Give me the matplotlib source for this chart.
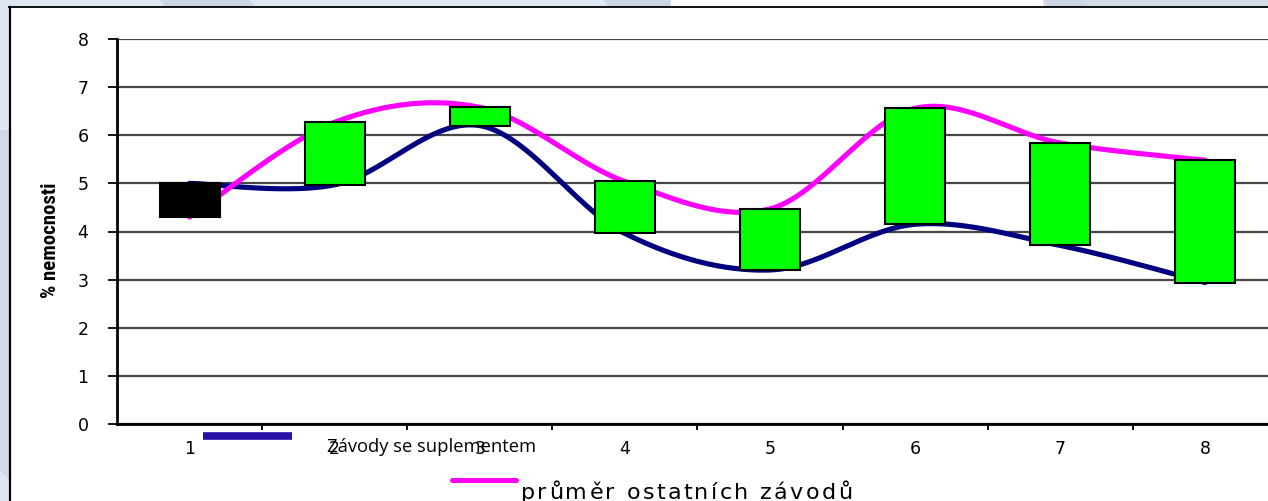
import numpy as np
import matplotlib
matplotlib.use('Agg')
import matplotlib.pyplot as plt
from matplotlib import font_manager as fm
from matplotlib.patches import Polygon, Rectangle
from matplotlib.lines import Line2D
from matplotlib.ft2font import FT2Font

# ---------------- data ----------------
categories = ['1', '2', '3', '4', '5', '6', '7', '8']
suplement = [5.0, 4.97, 6.2, 3.96, 3.2, 4.15, 3.71, 2.94]      # Závody se suplementem
ostatni = [4.3, 6.27, 6.58, 5.04, 4.47, 6.56, 5.84, 5.48]       # průměr ostatních závodů
series_names = ['Závody se suplementem', 'průměr ostatních závodů']
y_ticks = [0, 1, 2, 3, 4, 5, 6, 7, 8]
y_label = '% nemocnosti'

W, H = 1268, 501
fig = plt.figure(figsize=(W / 100, H / 100), dpi=100)
fig.patch.set_facecolor('#dee7f2')


def fx(px):
    return px / W


def fy(py):
    return 1 - py / H


def poly(pts, color, z=0):
    p = Polygon([(fx(a), fy(b)) for a, b in pts], closed=True, transform=fig.transFigure,
                facecolor=color, edgecolor='none', zorder=z)
    fig.add_artist(p)


# slide background stripes
poly([(160, 0), (250, 0), (256, 8), (166, 8)], '#ccd5e3')
poly([(604, 0), (671, 0), (675, 8), (608, 8)], '#ccd5e3')
poly([(671, 0), (1043, 0), (1043, 8), (671, 8)], '#ffffff')
poly([(1043, 0), (1084, 0), (1088, 8), (1047, 8)], '#ccd5e3')
poly([(1084, 0), (1268, 0), (1268, 8), (1088, 8)], '#d3dbe8')
poly([(0, 130), (9, 130), (9, 480), (0, 470)], '#d2dae7')

# white chart area with border
fig.add_artist(Rectangle((fx(9), 0), 1 - fx(9), fy(7), transform=fig.transFigure,
                         facecolor='white', edgecolor='none', zorder=0.5))
fig.add_artist(Line2D([fx(10), fx(10)], [0, fy(7)], transform=fig.transFigure,
                      color='black', lw=1.6, zorder=1))
fig.add_artist(Line2D([fx(9), 1], [fy(7), fy(7)], transform=fig.transFigure,
                      color='black', lw=1.3, zorder=1))

# ---------------- axes ----------------
cat_w = 145.1
ax = fig.add_axes([fx(117), fy(424), 8 * cat_w / W, (424 - 39) / H])
ax.patch.set_alpha(0)
ax.set_zorder(2)
n = len(categories)
xs = np.arange(1, n + 1)
ax.set_xlim(0.5, n + 0.5)
ax.set_ylim(0, 8)


def smooth(x, y, k=50):
    P = np.column_stack([np.asarray(x, float), np.asarray(y, float)])
    E = np.vstack([P[0], P, P[-1]])
    out = []
    t = np.linspace(0, 1, k)[:, None]
    for i in range(len(P) - 1):
        p0, p1, p2, p3 = E[i], E[i + 1], E[i + 2], E[i + 3]
        c1 = p1 + (p2 - p0) / 6
        c2 = p2 - (p3 - p1) / 6
        b = (1 - t) ** 3 * p1 + 3 * (1 - t) ** 2 * t * c1 + 3 * (1 - t) * t ** 2 * c2 + t ** 3 * p2
        out.append(b if i == 0 else b[1:])
    return np.vstack(out)


s1 = smooth(xs, suplement)
s2 = smooth(xs, ostatni)
ax.plot(s1[:, 0], s1[:, 1], color='#000080', lw=3.7, zorder=3, solid_capstyle='round')
ax.plot(s2[:, 0], s2[:, 1], color='#ff00ff', lw=3.7, zorder=3, solid_capstyle='round')

lo = np.minimum(suplement, ostatni)
hi = np.maximum(suplement, ostatni)
colors = ['#00ff00' if o > s else '#000000' for s, o in zip(suplement, ostatni)]
ax.bar(xs, hi - lo, bottom=lo, width=60 / cat_w, color=colors, edgecolor='black',
       linewidth=1.5, zorder=4)

# grid & spines
ax.set_yticks(y_ticks)
ax.yaxis.grid(True, color='#474747', lw=1.6, zorder=1)
ax.set_axisbelow(True)
for s in ['top', 'right']:
    ax.spines[s].set_visible(False)
ax.spines['left'].set_linewidth(2)
ax.spines['bottom'].set_linewidth(2)
ax.tick_params(axis='y', direction='out', length=6.5, width=1.3, pad=14,
               labelsize=12.5, labelfontfamily='DejaVu Sans')
ax.set_xticks(np.arange(1.5, n, 1.0))
ax.set_xticks(xs, minor=True)
ax.set_xticklabels([])
ax.set_xticklabels(categories, minor=True)
ax.tick_params(axis='x', which='major', direction='out', length=4.3, width=1.3)
ax.tick_params(axis='x', which='minor', length=0, pad=18, labelsize=12.5,
               labelfontfamily='DejaVu Sans')
for t in ax.get_xticklabels(minor=True):
    t.set_va('center')

# ---------------- text helpers ----------------
avail = {f.name for f in fm.fontManager.ttflist}


def fpath(family, weight='normal'):
    return fm.findfont(fm.FontProperties(family=family, weight=weight), fallback_to_default=True)


def adv(text, path, size):
    f = FT2Font(path)
    f.set_size(size, 100)
    return [f.load_char(ord(c)).linearHoriAdvance / 65536.0 for c in text]


# y label (bold, narrow)
narrow = next((nm for nm in ['Liberation Sans Narrow', 'Arial Narrow', 'Roboto Condensed',
                             'DejaVu Sans Condensed', 'Roboto'] if nm in avail), 'Liberation Sans')
pth = fpath(narrow, 'bold')
ysize = 100 * 118 / sum(adv(y_label, pth, 100))
ysize = min(ysize, 15)
fig.text(fx(51), fy(240), y_label, rotation=90, ha='center', va='center',
         fontsize=ysize, fontweight='bold', family=narrow)

# legend entry 1
fig.add_artist(Line2D([fx(203), fx(292)], [fy(435.7), fy(435.7)], transform=fig.transFigure,
                      color='#2a10a8', lw=5.5, solid_capstyle='butt', zorder=5))
lfam = 'Open Sans' if 'Open Sans' in avail else 'Liberation Sans'
p1 = fpath(lfam)
s_leg1 = 100 * 209 / sum(adv(series_names[0], p1, 100))
fig.text(fx(327), fy(452), series_names[0], ha='left', va='baseline',
         fontsize=s_leg1, family=lfam, zorder=5)

# legend entry 2 (letter-spaced)
fig.add_artist(Line2D([fx(452), fx(516)], [fy(480), fy(480)], transform=fig.transFigure,
                      color='#ff00ff', lw=3.6, solid_capstyle='round', zorder=5))
fam2 = 'DejaVu Sans'
p2 = fpath(fam2)
size2 = 16
a2 = adv(series_names[1], p2, size2)
extra = (328 - sum(a2[:-1]) - 0.8 * a2[-1]) / (len(a2) - 1)
xpos = 521.0
for ch, a in zip(series_names[1], a2):
    fig.text(fx(xpos), fy(499), ch, ha='left', va='baseline', fontsize=size2,
             family=fam2, zorder=5)
    xpos += a + extra

fig.savefig('out.png', dpi=100, facecolor=fig.get_facecolor())
